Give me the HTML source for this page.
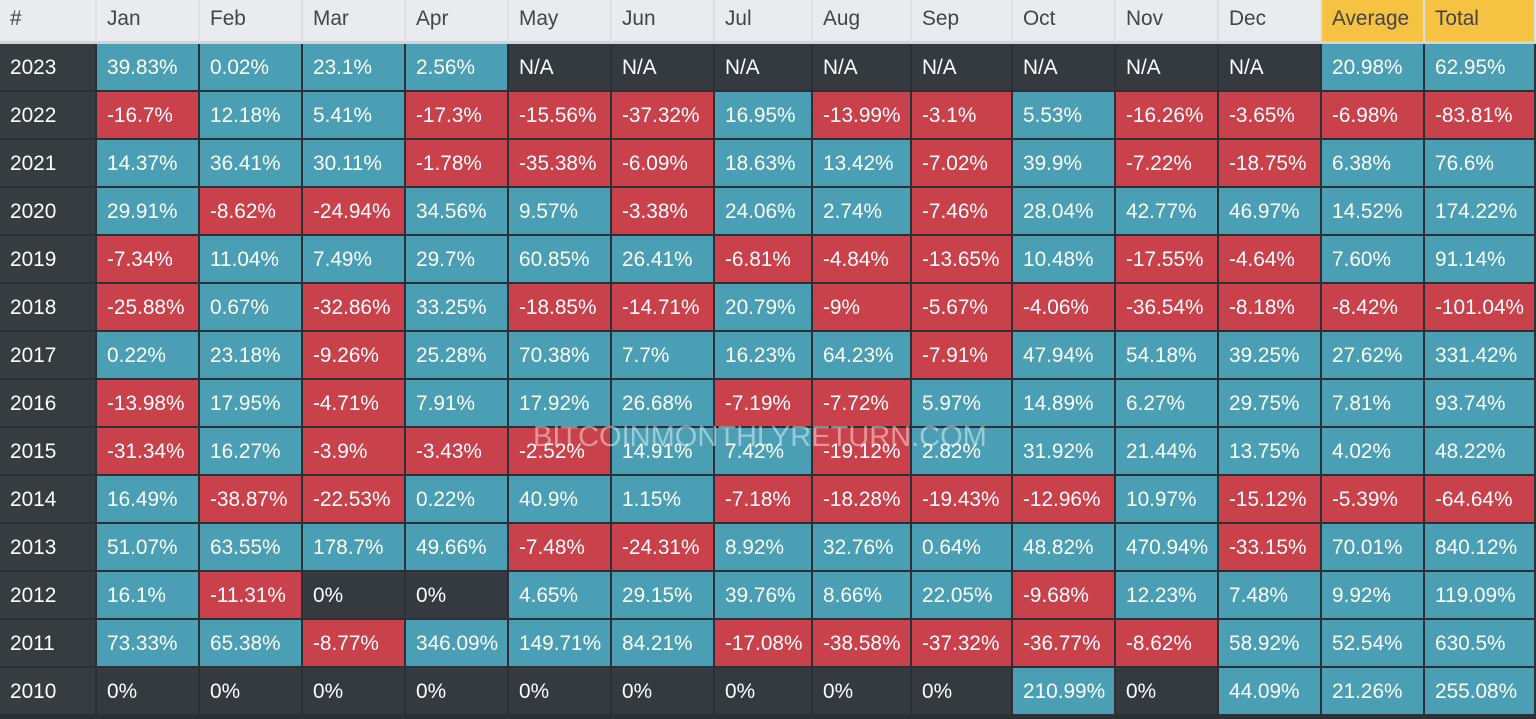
<!DOCTYPE html>
<html><head><meta charset="utf-8">
<style>
body{margin:0;width:1536px;height:719px;background:#2b3035;overflow:hidden;font-family:"Liberation Sans","DejaVu Sans",sans-serif;}
#t{position:relative;width:1536px;height:719px;}
.c{position:absolute;box-sizing:border-box;font-size:20.8px;color:#fff;padding-left:10px;padding-top:2px;display:flex;align-items:center;border-right:2px solid #2b3035;border-bottom:2px solid #2b3035;}
.h{color:#444;background:#e9ecef;border-right:2px solid #dde0e3;border-bottom:3px solid #cfd4d8;padding-top:0;padding-bottom:4px;}
.wm{position:absolute;left:533px;top:421px;font-size:29px;color:rgba(255,255,255,0.45);}
</style></head><body>
<div id="t"></div>
<script>
const headers=["#","Jan","Feb","Mar","Apr","May","Jun","Jul","Aug","Sep","Oct","Nov","Dec","Average","Total"];
const years=["2023","2022","2021","2020","2019","2018","2017","2016","2015","2014","2013","2012","2011","2010"];
const r2023=["39.83%","0.02%","23.1%","2.56%","N/A","N/A","N/A","N/A","N/A","N/A","N/A","N/A","20.98%","62.95%"];
const r2022=["-16.7%","12.18%","5.41%","-17.3%","-15.56%","-37.32%","16.95%","-13.99%","-3.1%","5.53%","-16.26%","-3.65%","-6.98%","-83.81%"];
const r2021=["14.37%","36.41%","30.11%","-1.78%","-35.38%","-6.09%","18.63%","13.42%","-7.02%","39.9%","-7.22%","-18.75%","6.38%","76.6%"];
const r2020=["29.91%","-8.62%","-24.94%","34.56%","9.57%","-3.38%","24.06%","2.74%","-7.46%","28.04%","42.77%","46.97%","14.52%","174.22%"];
const r2019=["-7.34%","11.04%","7.49%","29.7%","60.85%","26.41%","-6.81%","-4.84%","-13.65%","10.48%","-17.55%","-4.64%","7.60%","91.14%"];
const r2018=["-25.88%","0.67%","-32.86%","33.25%","-18.85%","-14.71%","20.79%","-9%","-5.67%","-4.06%","-36.54%","-8.18%","-8.42%","-101.04%"];
const r2017=["0.22%","23.18%","-9.26%","25.28%","70.38%","7.7%","16.23%","64.23%","-7.91%","47.94%","54.18%","39.25%","27.62%","331.42%"];
const r2016=["-13.98%","17.95%","-4.71%","7.91%","17.92%","26.68%","-7.19%","-7.72%","5.97%","14.89%","6.27%","29.75%","7.81%","93.74%"];
const r2015=["-31.34%","16.27%","-3.9%","-3.43%","-2.52%","14.91%","7.42%","-19.12%","2.82%","31.92%","21.44%","13.75%","4.02%","48.22%"];
const r2014=["16.49%","-38.87%","-22.53%","0.22%","40.9%","1.15%","-7.18%","-18.28%","-19.43%","-12.96%","10.97%","-15.12%","-5.39%","-64.64%"];
const r2013=["51.07%","63.55%","178.7%","49.66%","-7.48%","-24.31%","8.92%","32.76%","0.64%","48.82%","470.94%","-33.15%","70.01%","840.12%"];
const r2012=["16.1%","-11.31%","0%","0%","4.65%","29.15%","39.76%","8.66%","22.05%","-9.68%","12.23%","7.48%","9.92%","119.09%"];
const r2011=["73.33%","65.38%","-8.77%","346.09%","149.71%","84.21%","-17.08%","-38.58%","-37.32%","-36.77%","-8.62%","58.92%","52.54%","630.5%"];
const r2010=["0%","0%","0%","0%","0%","0%","0%","0%","0%","210.99%","0%","44.09%","21.26%","255.08%"];
const rows=[r2023,r2022,r2021,r2020,r2019,r2018,r2017,r2016,r2015,r2014,r2013,r2012,r2011,r2010];
const xs=[0,97,200,303,406,509,612,715,813,912,1013,1116,1219,1322,1425,1536];
const t=document.getElementById('t');
function cell(x,y,w,h,txt,bg,cls){
  const d=document.createElement('div');
  d.className='c '+(cls||'');
  d.style.left=x+'px';d.style.top=y+'px';d.style.width=w+'px';d.style.height=h+'px';
  if(bg)d.style.background=bg;
  d.textContent=txt;t.appendChild(d);return d;
}
headers.forEach((h,i)=>{
  const d=cell(xs[i],0,xs[i+1]-xs[i],44,h,i>=13?'#f5c242':null,'h');
  
  
});
function color(v){
  if(v==='N/A'||parseFloat(v)===0)return '#343a40';
  return parseFloat(v)<0?'#c9414a':'#4a9fb5';
}
years.forEach((y,r)=>{
  const top=44+r*48;
  const yc=cell(0,top,97,48,y,'#373c41');
  
  
  rows[r].forEach((v,i)=>{
    const d=cell(xs[i+1],top,xs[i+2]-xs[i+1],48,v,color(v));
    
    
  });
});
const wm=document.createElement('div');
wm.className='wm';wm.textContent='BITCOINMONTHLYRETURN.COM';


t.appendChild(wm);
</script>
</body></html>
